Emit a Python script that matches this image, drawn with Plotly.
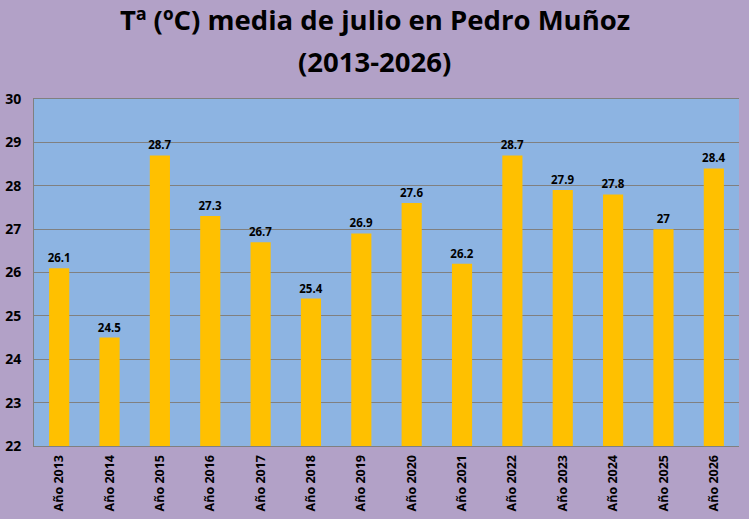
import plotly.graph_objects as go

years = ["Año 2013", "Año 2014", "Año 2015", "Año 2016", "Año 2017", "Año 2018", "Año 2019",
         "Año 2020", "Año 2021", "Año 2022", "Año 2023", "Año 2024", "Año 2025", "Año 2026"]
temps = [26.1, 24.5, 28.7, 27.3, 26.7, 25.4, 26.9, 27.6, 26.2, 28.7, 27.9, 27.8, 27, 28.4]
labels = [f"{t:g}" for t in temps]
title_lines = ["Tª (ºC) media de julio en Pedro Muñoz", "(2013-2026)"]

FONT = "Open Sans"

fig = go.Figure()
fig.add_trace(go.Bar(
    x=years, y=temps, marker=dict(color="#FFC000", line=dict(width=0)),
    text=labels, textposition="outside", cliponaxis=False, constraintext="none",
    textfont=dict(family=FONT, size=11.5, color="black", weight="bold"),
))

fig.update_layout(
    width=749, height=519,
    paper_bgcolor="#B2A1C7", plot_bgcolor="#8DB4E2",
    margin=dict(l=34, r=10, t=99, b=73, autoexpand=False),
    bargap=0.6, showlegend=False,
    font=dict(family=FONT, color="black"),
)
# two title lines as annotations, centred on the whole figure rather than the plot area
for txt, ypos in zip(title_lines, [1.228, 1.107]):
    fig.add_annotation(text=f"<b>{txt}</b>", xref="paper", yref="paper", x=0.483, y=ypos,
                       xanchor="center", yanchor="middle", showarrow=False,
                       font=dict(family=FONT, size=27.5, color="black"))

fig.update_yaxes(range=[22, 30], dtick=1, showgrid=True, gridcolor="#808080", gridwidth=1,
                 showline=True, linecolor="#808080", linewidth=1,
                 tickfont=dict(family=FONT, size=14, weight="bold"), ticks="", zeroline=False,
                 ticklabelstandoff=9, automargin=False)
fig.update_xaxes(tickangle=-90, showline=True, linecolor="#808080", linewidth=1, mirror=True,
                 tickfont=dict(family=FONT, size=12.5, weight="bold"), ticks="",
                 ticklabelstandoff=3, automargin=False)

# drop the browser's default 8px body margin so the figure fills the window
fig.write_html("out.html", config={"displayModeBar": False},
               post_script="document.body.style.margin='0';")
